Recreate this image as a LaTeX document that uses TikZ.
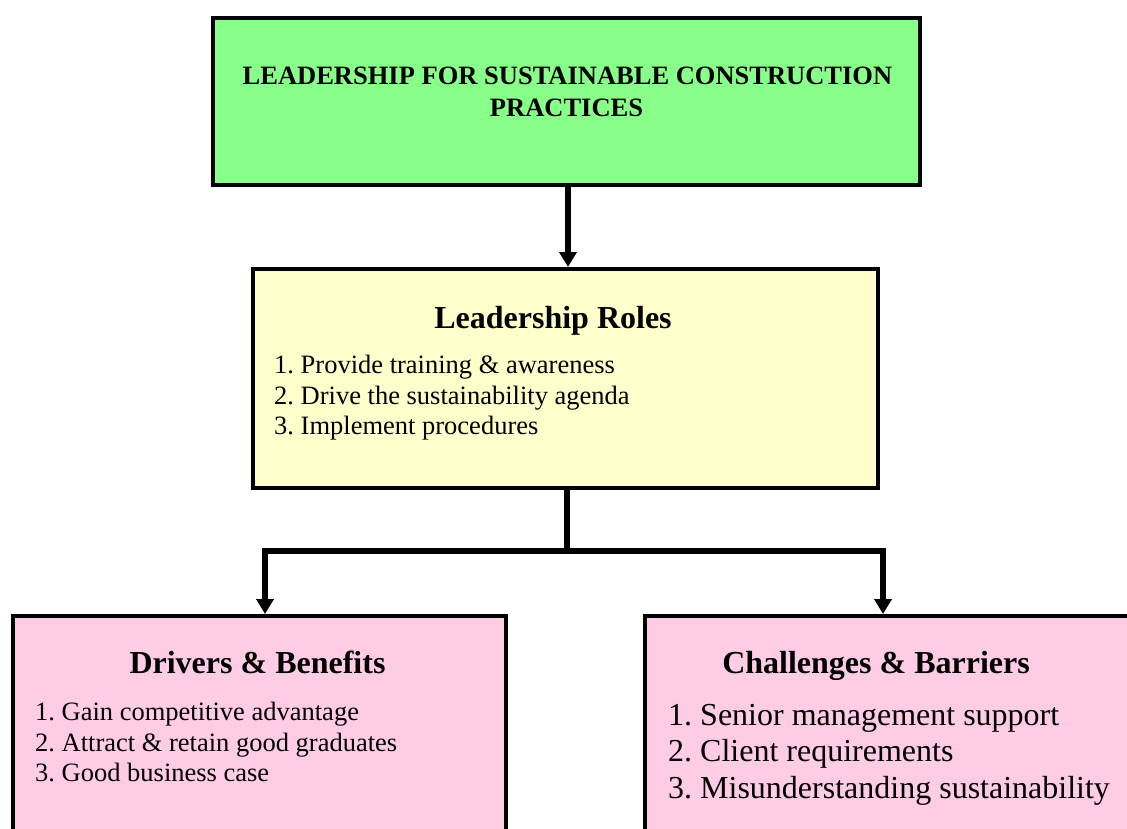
\documentclass[tikz,border=0pt]{standalone}
\usepackage{fontspec}
\setmainfont{Liberation Serif}
\usetikzlibrary{arrows.meta}
\frenchspacing

\definecolor{boxgreen}{RGB}{136,255,136}
\definecolor{boxyellow}{RGB}{255,255,204}
\definecolor{boxpink}{RGB}{255,204,230}

\begin{document}
\begin{tikzpicture}[x=1pt,y=-1pt,
  box/.style={draw=black,line width=4pt,rectangle,inner sep=0pt,anchor=center},
  conn/.style={draw=black,line width=5.5pt},
  tipped/.style={-{Triangle[length=15pt,width=17pt]}},
  titletext/.style={font=\fontsize{26.5}{31.7}\selectfont\bfseries,inner sep=0pt,anchor=base},
  headtext/.style={font=\fontsize{32}{38}\selectfont\bfseries,inner sep=0pt,anchor=base},
  itemtext/.style={font=\fontsize{26.5}{30.5}\selectfont,inner sep=0pt,anchor=base west},
  bigitem/.style={font=\fontsize{32}{36.5}\selectfont,inner sep=0pt,anchor=base west}]

\useasboundingbox (0,0) rectangle (1127,829);

% boxes
\node[box,fill=boxgreen,minimum width=707pt,minimum height=167pt] (tb) at (566.5,101.5) {};
\node[box,fill=boxyellow,minimum width=625pt,minimum height=219pt] (yl) at (565.5,378.5) {};
\node[box,fill=boxpink,minimum width=493pt,minimum height=244pt] (db) at (259.5,738) {};
\node[box,fill=boxpink,minimum width=515pt,minimum height=244pt] (cb) at (902.5,738) {};

% title
\node[titletext] (t1) at (567.5,85) {LEADERSHIP FOR SUSTAINABLE CONSTRUCTION};
\node[titletext] (t2) at (566.5,117) {PRACTICES};

% leadership roles
\node[headtext] (lrh) at (553,328) {Leadership Roles};
\node[itemtext] (lr1) at (274,373.5) {1. Provide training \& awareness};
\node[itemtext] (lr2) at (274,404) {2. Drive the sustainability agenda};
\node[itemtext] (lr3) at (274,434.5) {3. Implement procedures};

% drivers and benefits
\node[headtext] (dbh) at (257.5,673) {Drivers \& Benefits};
\node[itemtext] (db1) at (35,720.5) {1. Gain competitive advantage};
\node[itemtext] (db2) at (35,751) {2. Attract \& retain good graduates};
\node[itemtext] (db3) at (35,781.5) {3. Good business case};

% challenges and barriers
\node[headtext] (cbh) at (876,673) {Challenges \& Barriers};
\node[bigitem] (cb1) at (668,725) {1. Senior management support};
\node[bigitem] (cb2) at (668,761.7) {2. Client requirements};
\node[bigitem] (cb3) at (668,798.3) {3. Misunderstanding sustainability};

% connectors
\coordinate (split) at (567,551);
\coordinate (jl) at (265,551);
\coordinate (jr) at (883,551);
\draw[conn,tipped] ([xshift=1.5pt]tb.south) -- ([xshift=1.5pt]tb.south |- yl.north);
\draw[conn] (split |- yl.south) -- (split);
\draw[conn,tipped] (split) -| (jl |- db.north);
\draw[conn,tipped] (split) -| (jr |- cb.north);

\end{tikzpicture}
\end{document}
